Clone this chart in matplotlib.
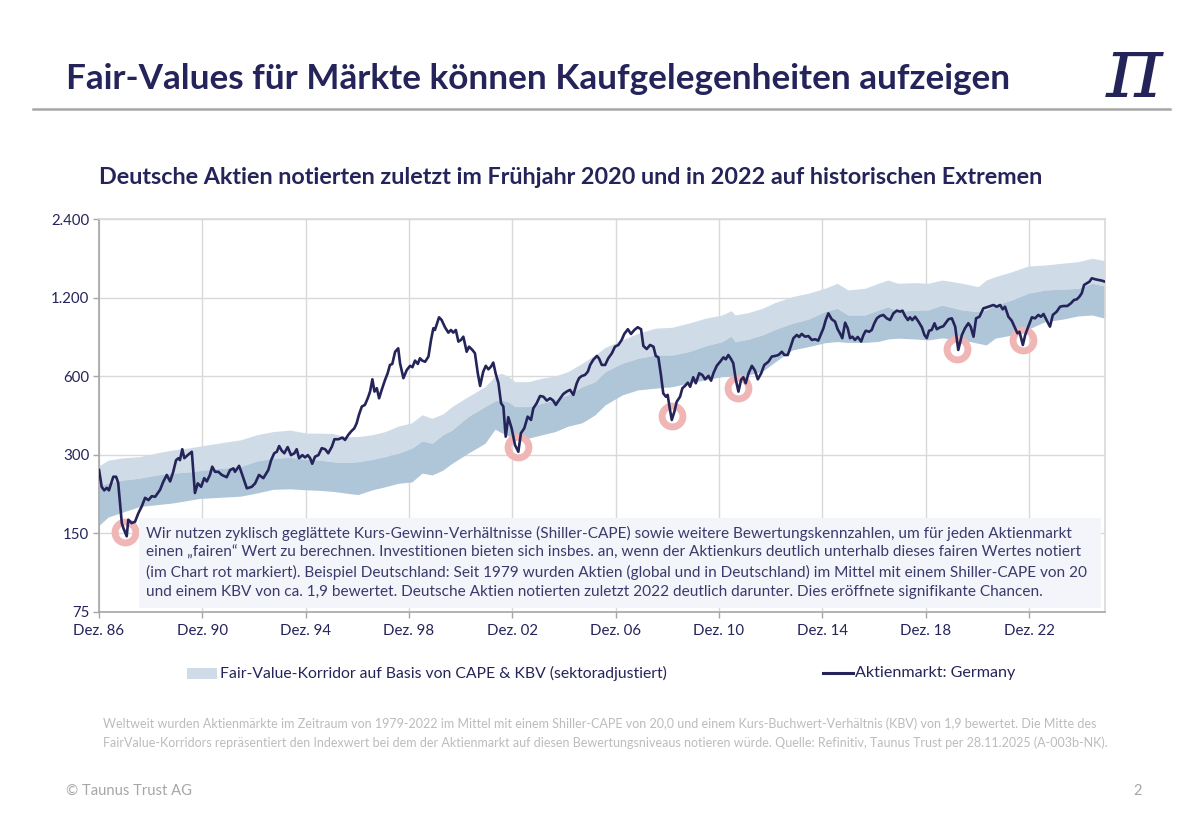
import matplotlib
matplotlib.use("Agg")
import matplotlib.pyplot as plt
from matplotlib.patches import Rectangle
from matplotlib.lines import Line2D

plt.rcParams['font.family'] = ['Lato', 'DejaVu Sans']

NAVY = '#25245a'
TEXT = '#3a3a6c'
LIGHT = '#cfdce7'
DARK = '#afc5d8'
RING = '#f0b6b6'

# Aktienmarkt Germany (index level, log scale), decimal years
dax_years = [1986.92, 1987.02, 1987.12, 1987.22, 1987.30, 1987.47, 1987.58, 1987.66, 1987.80, 1987.86,
             1987.99, 1988.05, 1988.18, 1988.31, 1988.44, 1988.57, 1988.70, 1988.83, 1988.96, 1989.09,
             1989.28, 1989.41, 1989.54, 1989.67, 1989.79, 1989.90, 1989.99, 1990.05, 1990.14, 1990.22,
             1990.35, 1990.51, 1990.63, 1990.74, 1990.87, 1990.99, 1991.09, 1991.21, 1991.30, 1991.41,
             1991.54, 1991.67, 1991.86, 1991.99, 1992.12, 1992.18, 1992.34, 1992.44, 1992.64, 1992.83,
             1992.96, 1993.11, 1993.28, 1993.47, 1993.58, 1993.70, 1993.80, 1993.89, 1993.99, 1994.09,
             1994.22, 1994.35, 1994.48, 1994.57, 1994.66, 1994.79, 1994.89, 1995.00, 1995.09, 1995.17,
             1995.28, 1995.41, 1995.54, 1995.67, 1995.79, 1995.93, 1996.03, 1996.18, 1996.34, 1996.44,
             1996.57, 1996.67, 1996.80, 1996.89, 1996.98, 1997.09, 1997.21, 1997.32, 1997.41, 1997.50,
             1997.58, 1997.67, 1997.76, 1997.86, 1997.99, 1998.09, 1998.18, 1998.27, 1998.38, 1998.50,
             1998.57, 1998.70, 1998.83, 1998.96, 1999.05, 1999.15, 1999.26, 1999.34, 1999.43, 1999.54,
             1999.67, 1999.77, 1999.86, 1999.92, 2000.08, 2000.18, 2000.31, 2000.44, 2000.54, 2000.63,
             2000.73, 2000.83, 2000.93, 2001.02, 2001.15, 2001.24, 2001.37, 2001.47, 2001.58, 2001.67,
             2001.79, 2001.89, 2001.99, 2002.09, 2002.18, 2002.27, 2002.38, 2002.48, 2002.57, 2002.66,
             2002.76, 2002.89, 2003.02, 2003.15, 2003.25, 2003.38, 2003.51, 2003.64, 2003.73, 2003.86,
             2003.99, 2004.12, 2004.25, 2004.38, 2004.50, 2004.60, 2004.73, 2004.89, 2005.02, 2005.15,
             2005.28, 2005.41, 2005.50, 2005.60, 2005.73, 2005.84, 2005.93, 2006.05, 2006.19, 2006.27,
             2006.38, 2006.51, 2006.63, 2006.77, 2006.89, 2007.02, 2007.15, 2007.25, 2007.39, 2007.51,
             2007.64, 2007.77, 2007.90, 2007.99, 2008.12, 2008.25, 2008.38, 2008.47, 2008.57, 2008.67,
             2008.76, 2008.86, 2008.93, 2009.02, 2009.09, 2009.19, 2009.28, 2009.41, 2009.50, 2009.60,
             2009.71, 2009.80, 2009.92, 2010.02, 2010.15, 2010.27, 2010.38, 2010.51, 2010.61, 2010.70,
             2010.83, 2010.96, 2011.09, 2011.18, 2011.28, 2011.39, 2011.47, 2011.57, 2011.67, 2011.77,
             2011.86, 2011.95, 2012.06, 2012.19, 2012.31, 2012.42, 2012.55, 2012.67, 2012.83, 2012.96,
             2013.09, 2013.22, 2013.35, 2013.45, 2013.58, 2013.67, 2013.80, 2013.93, 2014.02, 2014.12,
             2014.25, 2014.38, 2014.51, 2014.64, 2014.76, 2014.87, 2014.96, 2015.05, 2015.15, 2015.28,
             2015.41, 2015.51, 2015.60, 2015.69, 2015.80, 2015.90, 2015.99, 2016.08, 2016.18, 2016.29,
             2016.42, 2016.51, 2016.60, 2016.73, 2016.83, 2016.93, 2017.03, 2017.15, 2017.28, 2017.41,
             2017.54, 2017.67, 2017.80, 2017.93, 2018.02, 2018.12, 2018.23, 2018.31, 2018.40, 2018.51,
             2018.64, 2018.77, 2018.87, 2018.96, 2019.05, 2019.15, 2019.26, 2019.35, 2019.48, 2019.60,
             2019.80, 2019.93, 2020.06, 2020.18, 2020.32, 2020.44, 2020.57, 2020.66, 2020.77, 2020.87,
             2021.00, 2021.15, 2021.35, 2021.54, 2021.67, 2021.80, 2021.90, 2021.99, 2022.12, 2022.25,
             2022.38, 2022.47, 2022.55, 2022.68, 2022.77, 2022.89, 2023.03, 2023.15, 2023.28, 2023.38,
             2023.48, 2023.61, 2023.73, 2023.84, 2023.99, 2024.12, 2024.25, 2024.40, 2024.54, 2024.66,
             2024.77, 2024.87, 2024.96, 2025.05, 2025.16, 2025.26, 2025.35, 2025.48, 2025.61, 2025.74,
             2025.86]
dax_values = [262, 226, 219, 224, 219, 247, 247, 234, 164, 157,
              146, 169, 164, 166, 179, 190, 205, 201, 208, 207,
              220, 237, 251, 237, 258, 286, 291, 286, 315, 291,
              299, 308, 214, 233, 226, 244, 237, 251, 270, 258,
              258, 251, 246, 262, 266, 258, 272, 255, 223, 226,
              233, 251, 244, 262, 286, 304, 308, 324, 311, 304,
              321, 299, 304, 315, 291, 299, 293, 299, 291, 277,
              295, 299, 318, 315, 304, 322, 344, 344, 349, 342,
              358, 368, 379, 396, 427, 459, 466, 494, 524, 584,
              524, 540, 494, 532, 581, 616, 663, 669, 745, 768,
              673, 590, 634, 658, 650, 689, 669, 703, 689, 682,
              714, 827, 917, 903, 1010, 986, 925, 882, 903, 882,
              903, 815, 827, 851, 745, 779, 757, 735, 616, 551,
              625, 658, 638, 653, 677, 616, 564, 473, 459, 352,
              418, 379, 327, 308, 363, 379, 420, 408, 452, 473,
              504, 501, 484, 494, 484, 466, 487, 513, 524, 532,
              509, 564, 590, 601, 607, 625, 663, 694, 718, 703,
              663, 663, 703, 735, 779, 791, 827, 872, 909, 872,
              903, 925, 909, 784, 763, 791, 779, 718, 709, 607,
              516, 501, 509, 446, 408, 439, 479, 501, 540, 551,
              567, 547, 595, 564, 616, 607, 584, 602, 577, 616,
              658, 682, 709, 697, 724, 697, 673, 581, 524, 581,
              595, 564, 616, 658, 631, 584, 616, 663, 682, 714,
              718, 724, 745, 724, 724, 768, 840, 864, 849, 872,
              851, 856, 827, 832, 822, 872, 917, 986, 1046, 993,
              972, 909, 877, 840, 963, 917, 840, 851, 827, 849,
              815, 864, 897, 889, 903, 958, 1001, 1022, 1031, 1001,
              986, 1046, 1071, 1062, 1071, 1022, 986, 1010, 986, 1015,
              972, 925, 864, 840, 897, 903, 958, 909, 925, 933,
              993, 1001, 930, 757, 864, 917, 958, 930, 851, 1001,
              1015, 1093, 1109, 1126, 1109, 1126, 1084, 1109, 1015, 980,
              917, 877, 889, 791, 864, 930, 1010, 1001, 1031, 1015,
              1040, 980, 930, 1031, 1062, 1109, 1116, 1116, 1143, 1177,
              1184, 1212, 1249, 1344, 1364, 1384, 1426, 1413, 1404, 1396,
              1384]

# Fair-Value-Korridor: lower edge, middle, upper edge
band_years = [1986.92, 1987.27, 1987.85, 1988.50, 1989.16, 1989.78, 1990.44, 1990.83, 1991.60, 1992.38,
              1993.03, 1993.65, 1994.31, 1994.97, 1995.47, 1995.98, 1996.44, 1996.94, 1997.49, 1997.99,
              1998.49, 1999.03, 1999.42, 1999.81, 2000.23, 2000.58, 2001.20, 2001.86, 2002.25, 2002.48,
              2002.75, 2003.02, 2003.53, 2004.07, 2004.57, 2005.07, 2005.62, 2006.12, 2006.51, 2007.17,
              2007.78, 2008.44, 2009.10, 2009.72, 2010.38, 2011.04, 2011.39, 2011.54, 2012.04, 2012.59,
              2013.09, 2013.75, 2014.37, 2015.02, 2015.49, 2015.91, 2016.57, 2017.08, 2017.46, 2017.85,
              2018.51, 2019.01, 2019.55, 2020.33, 2020.95, 2021.26, 2021.61, 2022.26, 2022.88, 2023.54,
              2024.20, 2024.82, 2025.36, 2025.86]
band_high = [272, 286, 292, 295, 305, 313, 319, 324, 333, 342,
             358, 368, 373, 363, 363, 362, 352, 352, 358, 368,
             386, 398, 427, 414, 430, 459, 501, 547, 601, 616,
             601, 572, 572, 590, 601, 625, 673, 724, 774, 827,
             877, 917, 925, 958, 1001, 1031, 1071, 1031, 1052, 1093,
             1151, 1212, 1249, 1305, 1364, 1286, 1305, 1364, 1404, 1364,
             1372, 1364, 1404, 1364, 1324, 1404, 1446, 1511, 1589, 1603,
             1628, 1651, 1701, 1665]
band_mid = [228, 234, 240, 244, 251, 255, 258, 261, 266, 270,
            284, 291, 293, 288, 286, 282, 280, 282, 288, 295,
            304, 318, 339, 332, 358, 373, 420, 459, 483, 487,
            479, 459, 459, 473, 487, 509, 547, 572, 625, 673,
            703, 724, 724, 745, 784, 815, 856, 815, 832, 864,
            907, 958, 993, 1062, 1093, 1031, 1031, 1077, 1109, 1062,
            1077, 1077, 1126, 1077, 1062, 1077, 1126, 1177, 1249, 1286,
            1294, 1305, 1364, 1332]
band_low = [161, 173, 181, 190, 193, 196, 201, 204, 206, 208,
            214, 221, 222, 220, 219, 217, 214, 211, 220, 226,
            233, 236, 255, 251, 262, 278, 304, 332, 376, 365,
            355, 342, 347, 358, 368, 386, 398, 427, 466, 509,
            532, 540, 547, 564, 581, 598, 601, 598, 607, 626,
            681, 757, 779, 807, 815, 809, 809, 816, 834, 840,
            834, 827, 842, 827, 803, 791, 840, 864, 909, 972,
            993, 1022, 1031, 1001]

# rot markierte Kaufgelegenheiten
chance_years = [1987.92, 2003.15, 2009.09, 2011.64, 2020.15, 2022.68]
chance_values = [152, 322, 422, 542, 764, 827]

y_ticks = [75, 150, 300, 600, 1200, 2400]
y_labels = ['75', '150', '300', '600', '1.200', '2.400']
x_ticks = [1986 + 11 / 12 + 4 * i for i in range(10)]
x_labels = ['Dez. 86', 'Dez. 90', 'Dez. 94', 'Dez. 98', 'Dez. 02',
            'Dez. 06', 'Dez. 10', 'Dez. 14', 'Dez. 18', 'Dez. 22']

W, H = 1200, 831


def fx(px):
    return px / W


def fy(py):
    return 1 - py / H


fig = plt.figure(figsize=(12, 8.31), dpi=100)
fig.patch.set_facecolor('white')

ax = fig.add_axes([fx(99), fy(611.7), fx(1105) - fx(99), fy(219.3) - fy(611.7)])
ax.fill_between(band_years, band_mid, band_high, color=LIGHT, lw=0, zorder=1)
ax.fill_between(band_years, band_low, band_mid, color=DARK, lw=0, zorder=1)
ax.plot(chance_years, chance_values, 'o', ms=15, mfc='none', mec=RING, mew=5, zorder=2)
ax.plot(dax_years, dax_values, color=NAVY, lw=1.9, zorder=3)

ax.set_yscale('log', base=2)
ax.set_ylim(75, 2400)
ax.set_xlim(1986 + 11 / 12, 2025.86)
ax.set_yticks(y_ticks)
ax.set_yticklabels(y_labels)
ax.yaxis.set_minor_locator(plt.NullLocator())
ax.set_xticks(x_ticks)
ax.set_xticklabels(x_labels)
ax.tick_params(axis='both', length=4, width=1, color='#a6a6a6', labelsize=10.8,
               labelcolor=NAVY)
ax.tick_params(axis='y', pad=3)
ax.tick_params(axis='x', pad=5)
ax.grid(True, color='#d9d9d9', lw=1, zorder=0)
ax.set_axisbelow(True)
for side in ['top', 'right']:
    ax.spines[side].set_color('#d9d9d9')
for side in ['left', 'bottom']:
    ax.spines[side].set_color('#a6a6a6')
for s in ax.spines.values():
    s.set_linewidth(1.2)

# Titel
fig.text(fx(66), fy(79), 'Fair-Values für Märkte können Kaufgelegenheiten aufzeigen',
         fontsize=25.3, fontweight='bold', color=NAVY, va='center', ha='left')
fig.add_artist(Line2D([fx(33), fx(1170)], [fy(109), fy(109)], color='#a6a6a6', lw=1.8))
fig.text(fx(1134), fy(73), 'π', fontsize=62, fontstyle='italic', family='DejaVu Serif',
         color=NAVY, ha='center', va='center')
fig.text(fx(99), fy(177), 'Deutsche Aktien notierten zuletzt im Frühjahr 2020 und in 2022 auf historischen Extremen',
         fontsize=16.8, fontweight='bold', color=NAVY, va='center', ha='left')

# Textbox im Chart
fig.add_artist(Rectangle((fx(139), fy(608)), fx(1101) - fx(139), fy(518) - fy(608),
                         transform=fig.transFigure, facecolor='#f4f5fa', edgecolor='none', zorder=5))
box_lines = [
    'Wir nutzen zyklisch geglättete Kurs-Gewinn-Verhältnisse (Shiller-CAPE) sowie weitere Bewertungskennzahlen, um für jeden Aktienmarkt',
    'einen „fairen“ Wert zu berechnen. Investitionen bieten sich insbes. an, wenn der Aktienkurs deutlich unterhalb dieses fairen Wertes notiert',
    '(im Chart rot markiert). Beispiel Deutschland: Seit 1979 wurden Aktien (global und in Deutschland) im Mittel mit einem Shiller-CAPE von 20',
    'und einem KBV von ca. 1,9 bewertet. Deutsche Aktien notierten zuletzt 2022 deutlich darunter. Dies eröffnete signifikante Chancen.',
]
for i, line in enumerate(box_lines):
    fig.text(fx(146), fy(533 + i * 19.7), line, fontsize=11.1, color=TEXT,
             va='center', ha='left', zorder=6)

# Legende
fig.add_artist(Rectangle((fx(187), fy(679)), fx(217) - fx(187), fy(668) - fy(679),
                         transform=fig.transFigure, facecolor=LIGHT, edgecolor='none'))
fig.text(fx(220), fy(673), 'Fair-Value-Korridor auf Basis von CAPE & KBV (sektoradjustiert)',
         fontsize=11.3, color=NAVY, va='center', ha='left')
fig.add_artist(Line2D([fx(823), fx(853)], [fy(673), fy(673)], color=NAVY, lw=2.2))
fig.text(fx(855), fy(673), 'Aktienmarkt: Germany', fontsize=11.6, color=NAVY, va='center', ha='left')

# Fußnote
foot = [
    'Weltweit wurden Aktienmärkte im Zeitraum von 1979-2022 im Mittel mit einem Shiller-CAPE von 20,0 und einem Kurs-Buchwert-Verhältnis (KBV) von 1,9 bewertet. Die Mitte des',
    'FairValue-Korridors repräsentiert den Indexwert bei dem der Aktienmarkt auf diesen Bewertungsniveaus notieren würde. Quelle: Refinitiv, Taunus Trust per 28.11.2025 (A-003b-NK).',
]
for i, line in enumerate(foot):
    fig.text(fx(103), fy(724 + i * 19), line, fontsize=9.0, color='#bcbcbc', va='center', ha='left')

fig.text(fx(66), fy(791), '© Taunus Trust AG', fontsize=10.6, color='#a6a6a6', va='center', ha='left')
fig.text(fx(1133), fy(791), '2', fontsize=10.6, color='#a6a6a6', va='center', ha='left')

fig.savefig('out.png', dpi=100)
